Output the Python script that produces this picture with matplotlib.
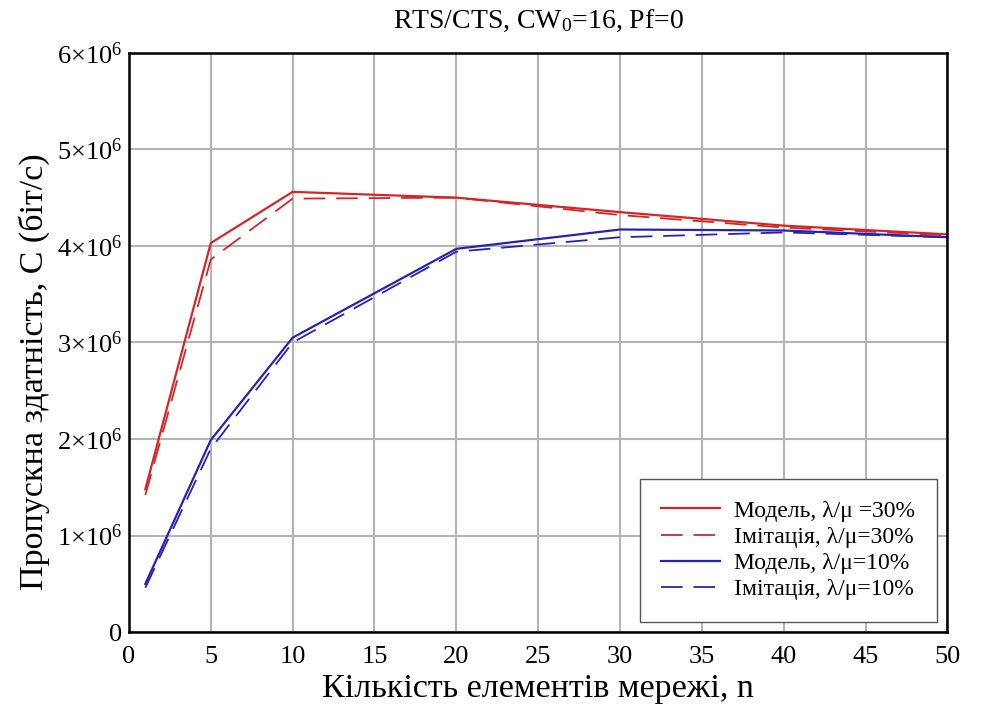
import matplotlib.pyplot as plt
import numpy as np

# кількість елементів мережі
n = [1, 5, 10, 20, 30, 40, 50]

# пропускна здатність, біт/с
model30 = [1.48e6, 4.03e6, 4.56e6, 4.50e6, 4.35e6, 4.21e6, 4.12e6]
imit30 = [1.42e6, 3.86e6, 4.49e6, 4.50e6, 4.32e6, 4.19e6, 4.11e6]
model10 = [0.50e6, 1.99e6, 3.05e6, 3.97e6, 4.17e6, 4.16e6, 4.09e6]
imit10 = [0.46e6, 1.90e6, 3.00e6, 3.94e6, 4.09e6, 4.14e6, 4.09e6]

xticks = [0, 5, 10, 15, 20, 25, 30, 35, 40, 45, 50]
yticks = [0, 1e6, 2e6, 3e6, 4e6, 5e6, 6e6]
ylabels = ['0', r'$1{\times}10^{6}$', r'$2{\times}10^{6}$', r'$3{\times}10^{6}$',
           r'$4{\times}10^{6}$', r'$5{\times}10^{6}$', r'$6{\times}10^{6}$']

plt.rcParams['font.family'] = ['Liberation Serif', 'DejaVu Serif']
plt.rcParams['mathtext.fontset'] = 'custom'
plt.rcParams['mathtext.rm'] = 'Liberation Serif'
plt.rcParams['mathtext.it'] = 'Liberation Serif:italic'

fig = plt.figure(figsize=(9.92, 7.04), dpi=100)
ax = fig.add_axes([0.130, 0.102, 0.825, 0.823])

red = '#d42626'
blue = '#2424b4'
ax.plot(n, model30, color=red, lw=1.6, label=r'Модель, λ/μ =30%')
ax.plot(n, imit30, color=red, lw=1.3, dashes=(12, 6), label=r'Імітація, λ/μ=30%')
ax.plot(n, model10, color=blue, lw=1.6, label=r'Модель, λ/μ=10%')
ax.plot(n, imit10, color=blue, lw=1.3, dashes=(12, 6), label=r'Імітація, λ/μ=10%')

ax.set_xlim(0, 50)
ax.set_ylim(0, 6e6)
ax.set_xticks(xticks)
ax.set_yticks(yticks)
ax.set_yticklabels(ylabels)
ax.tick_params(length=0, labelsize=19)
ax.tick_params(axis='x', pad=10)
ax.tick_params(axis='y', pad=5)
ax.grid(True, color='#b4b4b4', lw=1.5)
for s in ax.spines.values():
    s.set_linewidth(1.8)

ax.set_xlabel('Кількість елементів мережі, n', fontsize=24.5, labelpad=4)
ax.set_ylabel('Пропускна здатність, C (біт/с)', fontsize=24.5)
ax.yaxis.set_label_coords(-0.097, 0.45)
ax.set_title(r'RTS/CTS, CW$_0$=16, Pf=0', fontsize=20, pad=18)

leg = ax.legend(loc='lower right', fontsize=17, fancybox=False, framealpha=1,
                edgecolor='#555555', handlelength=2.5, handletextpad=0.6,
                borderpad=0.9, labelspacing=0.2, borderaxespad=0.45)
leg.get_frame().set_linewidth(1.0)

fig.savefig('out.png', dpi=100)
